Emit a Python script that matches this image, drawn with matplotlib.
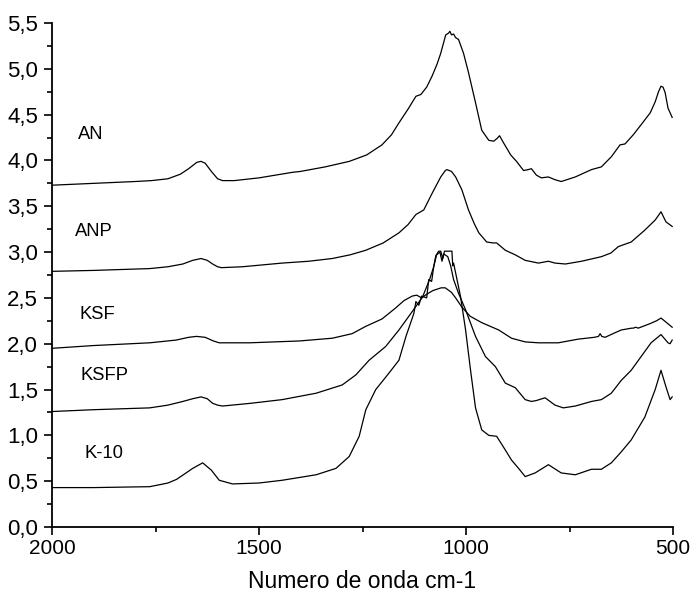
import matplotlib
matplotlib.use("Agg")
import matplotlib.pyplot as plt
from matplotlib.ticker import MultipleLocator, FuncFormatter

plt.rcParams['font.family'] = ['Liberation Sans', 'DejaVu Sans']

# ---- data (wavenumber cm-1, absorbance) ----
an_x = [2000, 1900, 1800, 1760, 1720, 1690, 1670, 1650, 1640, 1630, 1615, 1600, 1588, 1560, 1500,
        1420, 1400, 1340, 1282, 1240, 1203, 1180, 1162, 1140, 1121, 1109, 1095, 1082, 1070, 1061,
        1049, 1042, 1039, 1035, 1030, 1025, 1018, 1006, 994, 977, 962, 945, 933, 925, 919, 909,
        892, 878, 861, 850, 842, 830, 818, 801, 785, 770, 736, 697, 673, 649, 628, 616, 596, 577,
        555, 543, 535, 529, 524, 519, 512, 502]
an_y = [3.73, 3.75, 3.77, 3.78, 3.80, 3.85, 3.91, 3.98, 3.99, 3.97, 3.88, 3.80, 3.78, 3.78, 3.81,
        3.87, 3.88, 3.93, 3.99, 4.06, 4.17, 4.28, 4.41, 4.56, 4.70, 4.72, 4.80, 4.92, 5.05, 5.17,
        5.37, 5.39, 5.41, 5.37, 5.38, 5.34, 5.32, 5.17, 4.96, 4.63, 4.33, 4.22, 4.21, 4.24, 4.27,
        4.19, 4.06, 3.99, 3.89, 3.90, 3.91, 3.84, 3.81, 3.82, 3.79, 3.77, 3.82, 3.90, 3.93, 4.04,
        4.17, 4.18, 4.28, 4.39, 4.52, 4.64, 4.75, 4.81, 4.80, 4.74, 4.57, 4.47]

anp_x = [2000, 1900, 1764, 1720, 1684, 1660, 1640, 1625, 1612, 1600, 1591, 1540, 1444, 1380, 1323,
         1280, 1242, 1200, 1162, 1140, 1121, 1102, 1082, 1061, 1050, 1046, 1035, 1025, 1010, 994,
         980, 969, 950, 935, 926, 905, 881, 857, 825, 801, 785, 760, 721, 673, 650, 632, 601, 568,
         543, 529, 517, 502]
anp_y = [2.79, 2.80, 2.82, 2.84, 2.87, 2.91, 2.93, 2.91, 2.87, 2.84, 2.83, 2.84, 2.88, 2.90, 2.93,
         2.97, 3.02, 3.10, 3.21, 3.30, 3.41, 3.46, 3.64, 3.82, 3.89, 3.90, 3.88, 3.82, 3.68, 3.46,
         3.31, 3.21, 3.11, 3.10, 3.10, 3.02, 2.97, 2.91, 2.88, 2.90, 2.88, 2.87, 2.90, 2.95, 2.99,
         3.06, 3.11, 3.24, 3.35, 3.44, 3.33, 3.28]

ksf_x = [2000, 1900, 1764, 1700, 1670, 1651, 1630, 1610, 1596, 1523, 1403, 1323, 1275, 1242, 1203,
         1170, 1150, 1130, 1119, 1107, 1095, 1080, 1060, 1050, 1035, 1025, 1010, 990, 962, 921,
         890, 857, 825, 777, 729, 690, 680, 676, 672, 664, 645, 625, 600, 596, 590, 584, 555, 540,
         529, 518, 502]
ksf_y = [1.95, 1.98, 2.01, 2.04, 2.07, 2.08, 2.07, 2.03, 2.01, 2.01, 2.03, 2.06, 2.11, 2.19, 2.27,
         2.39, 2.47, 2.52, 2.53, 2.50, 2.54, 2.58, 2.61, 2.61, 2.56, 2.50, 2.40, 2.30, 2.23, 2.15,
         2.06, 2.02, 2.01, 2.01, 2.05, 2.07, 2.08, 2.11, 2.08, 2.07, 2.11, 2.15, 2.17, 2.17, 2.18,
         2.17, 2.22, 2.25, 2.28, 2.24, 2.18]

ksfp_x = [2000, 1900, 1764, 1720, 1684, 1660, 1640, 1625, 1612, 1600, 1588, 1520, 1444, 1362, 1299,
          1266, 1234, 1210, 1194, 1162, 1130, 1105, 1088, 1078, 1071, 1063, 1058, 1054, 1044, 1037,
          1030, 1018, 1001, 977, 953, 929, 905, 881, 857, 842, 830, 809, 785, 765, 736, 697, 673,
          649, 625, 601, 577, 553, 529, 512, 507, 502]
ksfp_y = [1.26, 1.28, 1.30, 1.33, 1.37, 1.40, 1.42, 1.40, 1.35, 1.33, 1.32, 1.35, 1.39, 1.46, 1.55,
          1.66, 1.82, 1.91, 1.97, 2.15, 2.35, 2.51, 2.70, 2.84, 2.97, 3.00, 2.90, 2.98, 2.95, 2.85,
          2.70, 2.55, 2.37, 2.08, 1.86, 1.75, 1.57, 1.52, 1.39, 1.37, 1.38, 1.41, 1.33, 1.30, 1.32,
          1.37, 1.39, 1.46, 1.60, 1.71, 1.86, 2.01, 2.10, 2.01, 2.00, 2.04]

k10_x = [2000, 1900, 1764, 1720, 1699, 1660, 1636, 1615, 1596, 1564, 1500, 1444, 1362, 1314, 1282,
         1258, 1242, 1218, 1186, 1162, 1145, 1126, 1121, 1114, 1107, 1095, 1090, 1083, 1078, 1073,
         1066, 1061, 1056, 1052, 1034, 1032, 1030, 1013, 1001, 989, 977, 962, 945, 926, 905, 890,
         873, 857, 833, 801, 770, 736, 697, 673, 649, 625, 601, 568, 543, 529, 517, 507, 502]
k10_y = [0.43, 0.43, 0.44, 0.48, 0.52, 0.64, 0.70, 0.62, 0.51, 0.47, 0.48, 0.51, 0.57, 0.64, 0.77,
         0.99, 1.28, 1.50, 1.68, 1.82, 2.08, 2.33, 2.46, 2.42, 2.52, 2.50, 2.70, 2.68, 2.84, 2.96,
         3.01, 3.01, 2.93, 3.01, 3.01, 2.85, 2.88, 2.51, 2.15, 1.71, 1.30, 1.06, 1.00, 0.99, 0.84,
         0.73, 0.64, 0.55, 0.59, 0.68, 0.59, 0.57, 0.63, 0.63, 0.70, 0.82, 0.95, 1.20, 1.50, 1.71,
         1.53, 1.39, 1.42]

labels = ["AN", "ANP", "KSF", "KSFP", "K-10"]
label_x = [1937, 1945, 1933, 1930, 1922]
label_y = [4.28, 3.22, 2.32, 1.65, 0.80]

x_label = "Numero de onda cm-1"

# ---- figure ----
fig = plt.figure(figsize=(6.91, 5.97), dpi=100)
ax = fig.add_axes([52 / 691, 70 / 597, 621 / 691, 504 / 597])

for xs, ys in [(an_x, an_y), (anp_x, anp_y), (ksf_x, ksf_y), (ksfp_x, ksfp_y), (k10_x, k10_y)]:
    ax.plot(xs, ys, color='black', lw=0.9)

for t, tx, ty in zip(labels, label_x, label_y):
    ax.text(tx, ty, t, fontsize=13.2, ha='left', va='center', color='black')

ax.set_xlim(2000, 500)
ax.set_ylim(0, 5.5)
ax.spines['top'].set_visible(False)
ax.spines['right'].set_visible(False)
for s in ['left', 'bottom']:
    ax.spines[s].set_linewidth(1.3)

ax.xaxis.set_major_locator(MultipleLocator(500))
ax.xaxis.set_minor_locator(MultipleLocator(250))
ax.yaxis.set_major_locator(MultipleLocator(0.5))
ax.yaxis.set_minor_locator(MultipleLocator(0.25))
ax.yaxis.set_major_formatter(FuncFormatter(lambda v, p: f"{v:.1f}".replace('.', ',')))
ax.xaxis.set_major_formatter(FuncFormatter(lambda v, p: f"{int(round(v))}"))

ax.tick_params(which='major', direction='out', length=6, width=1.2, pad=4)
ax.tick_params(which='minor', direction='out', length=3.5, width=1.2)
ax.tick_params(axis='y', which='major', labelsize=16)
ax.tick_params(axis='x', which='major', labelsize=15, pad=3)

ax.set_xlabel(x_label, fontsize=16.5, labelpad=8)

fig.savefig("out.png", dpi=100)
